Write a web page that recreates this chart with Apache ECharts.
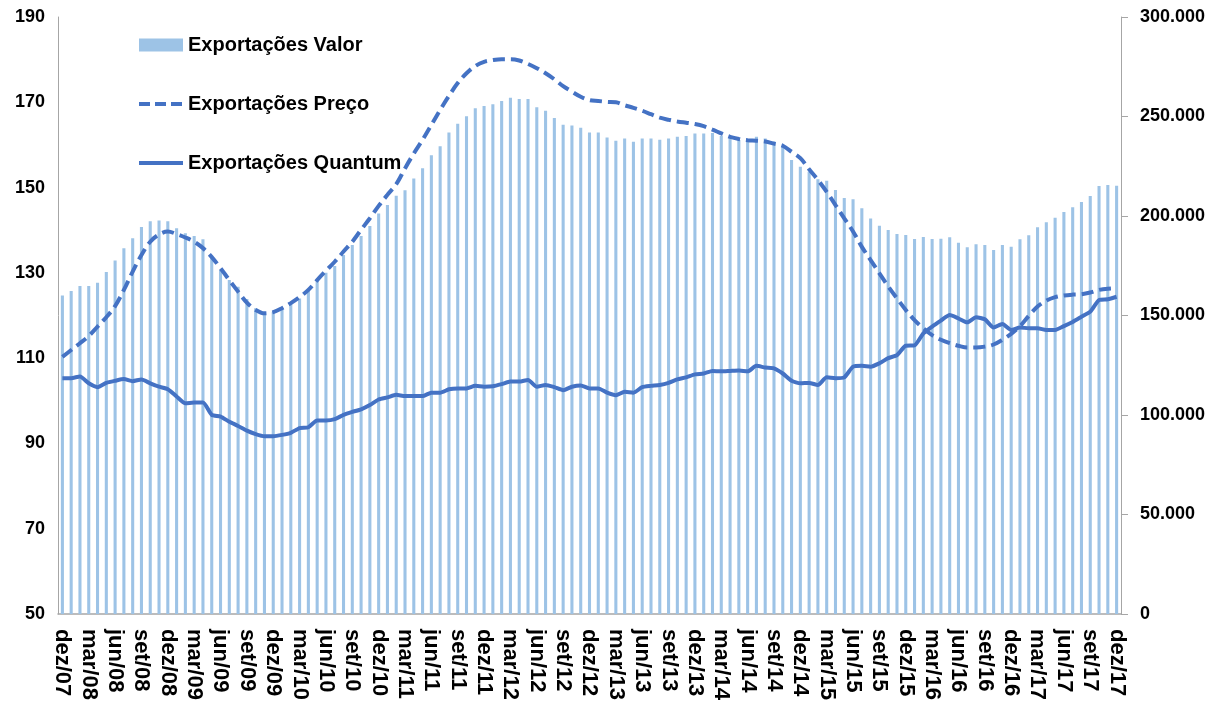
<!DOCTYPE html>
<html>
<head>
<meta charset="utf-8">
<script src="https://cdn.jsdelivr.net/npm/echarts@6/dist/echarts.min.js"></script>
<style>
  html, body { margin: 0; padding: 0; background: #ffffff; }
  #chart { width: 1210px; height: 704px; }
</style>
</head>
<body>
<div id="chart"></div>
<script>
// Monthly series, dez/07 .. dez/17
const monthNames = ['jan','fev','mar','abr','mai','jun','jul','ago','set','out','nov','dez'];
const startYear = 2007, startMonth = 11, nMonths = 121;

const categories = [];
for (let k = 0; k < nMonths; k++) {
  const m = (startMonth + k) % 12;
  const y = startYear + Math.floor((startMonth + k) / 12);
  categories.push(monthNames[m] + '/' + String(y % 100).padStart(2, '0'));
}

// Exportações Valor (US$ milhões, acumulado 12 meses) — right axis
const valor = [
  160000,162300,164800,164800,166500,171900,177700,183800,188800,194500,197300,197800,
  197300,193800,191300,190000,188300,180000,172900,167800,164500,158300,153600,151100,
  151900,153600,156100,158600,162800,167800,171500,174900,180400,185400,190000,195000,
  201300,205500,210200,213000,218900,224000,230500,235000,241900,246400,250100,254100,
  255300,256100,257800,259400,258800,258800,254600,252900,249200,245900,245500,244400,
  241900,241900,239500,237800,239000,237300,239000,239000,238300,239000,239800,240200,
  241400,241400,241700,240200,239200,238200,237700,239800,239000,237500,235000,228100,
  224800,222200,218500,217700,213100,209100,208400,203900,198800,195100,193000,191000,
  190500,188400,189400,188400,188600,189300,186600,184300,185800,185400,182900,185400,
  184600,188300,190300,194300,196800,199100,202000,204400,207000,210000,215100,215600,
  215200
];

// Exportações Preço (índice) — left axis
const preco = [
  110.3,111.9,113.5,115.2,117.4,119.6,122.2,126.0,130.3,134.2,137.3,139.0,
  139.7,139.1,138.3,137.3,135.8,133.7,131.1,128.3,125.6,123.0,121.3,120.5,
  120.8,121.7,122.9,124.3,126.0,128.3,130.5,132.6,135.0,137.3,140.1,142.8,
  145.7,148.3,150.8,154.5,158.0,161.2,164.7,168.2,171.5,174.5,176.8,178.5,
  179.5,179.9,180.1,180.1,179.8,179.0,178.0,176.8,175.4,173.8,172.5,171.3,
  170.5,170.3,170.1,170.0,169.3,168.7,168.0,167.2,166.4,165.9,165.5,165.2,
  164.9,164.4,163.6,162.7,161.9,161.4,161.1,161.0,160.8,160.3,159.8,158.4,
  156.9,154.3,151.8,149.0,145.9,142.8,139.7,136.1,133.0,129.9,126.8,124.0,
  121.3,118.9,117.0,115.4,114.3,113.5,112.9,112.5,112.5,112.7,113.2,114.3,
  115.7,117.5,119.9,122.1,123.5,124.3,124.7,124.9,125.0,125.4,126.0,126.3,
  126.4
];

// Exportações Quantum (índice) — left axis
const quantum = [
  105.3,105.3,105.7,104.1,103.2,104.2,104.7,105.1,104.6,105.0,104.1,103.3,
  102.7,101.0,99.4,99.6,99.6,96.7,96.3,95.1,94.1,93.0,92.2,91.7,
  91.7,92.0,92.5,93.6,93.8,95.4,95.4,95.7,96.7,97.4,98.0,99.0,
  100.3,100.8,101.4,101.1,101.1,101.1,101.9,101.9,102.7,102.9,102.9,103.5,
  103.3,103.4,103.9,104.5,104.5,104.9,103.3,103.7,103.2,102.5,103.3,103.6,
  102.9,102.9,101.9,101.3,102.1,101.9,103.2,103.5,103.7,104.2,105.0,105.5,
  106.2,106.4,107.0,106.9,107.0,107.1,106.9,108.2,107.8,107.6,106.4,104.7,
  104.1,104.2,103.7,105.5,105.3,105.5,108.0,108.2,108.0,108.8,110.0,110.7,
  112.9,113.0,115.8,117.4,118.8,120.1,119.3,118.4,119.6,119.1,117.2,118.0,
  116.6,117.2,117.0,117.0,116.6,116.6,117.5,118.5,119.7,120.9,123.6,123.8,
  124.4
];

const leftTicks = { min: 50, max: 190, interval: 20 };
const rightTicks = { min: 0, max: 300000, interval: 50000 };

const FONT = "'Liberation Sans', Arial, sans-serif";
const AXIS_GRAY = '#A6A6A6';
const BAR_BLUE = '#9DC3E6';
const LINE_BLUE = '#4472C4';

function thousands(v) {
  return String(Math.round(v)).replace(/\B(?=(\d{3})+(?!\d))/g, '.');
}

const chart = echarts.init(document.getElementById('chart'), null, { renderer: 'canvas' });

chart.setOption({
  backgroundColor: '#ffffff',
  animation: false,
  textStyle: { fontFamily: FONT },
  grid: { left: 58, right: 89, top: 17, bottom: 90, containLabel: false },
  legend: {
    orient: 'vertical',
    left: 137,
    top: 35,
    padding: 0,
    itemWidth: 44,
    itemHeight: 13,
    itemGap: 39,
    textStyle: { fontFamily: FONT, fontSize: 20, fontWeight: 'bold', color: '#000' },
    data: [
      { name: 'Exportações Valor', icon: 'rect' },
      // line entries: stroke only, no marker
      { name: 'Exportações Preço', itemStyle: { opacity: 0 }, lineStyle: { width: 4, type: [11, 5] } },
      { name: 'Exportações Quantum', itemStyle: { opacity: 0 }, lineStyle: { width: 4 } }
    ]
  },
  xAxis: {
    type: 'category',
    data: categories,
    boundaryGap: true,
    axisLine: { show: true, lineStyle: { color: AXIS_GRAY, width: 1.5 } },
    axisTick: { show: false },
    axisLabel: {
      interval: 2,
      rotate: -90,
      margin: 15,
      fontFamily: FONT,
      fontSize: 22,
      fontWeight: 'bold',
      color: '#000'
    },
    splitLine: { show: false }
  },
  yAxis: [
    {
      type: 'value',
      position: 'left',
      min: leftTicks.min,
      max: leftTicks.max,
      interval: leftTicks.interval,
      axisLine: { show: true, lineStyle: { color: AXIS_GRAY, width: 1 } },
      axisTick: { show: false },
      axisLabel: { margin: 13, fontFamily: FONT, fontSize: 18, fontWeight: 'bold', color: '#000' },
      splitLine: { show: false }
    },
    {
      type: 'value',
      position: 'right',
      min: rightTicks.min,
      max: rightTicks.max,
      interval: rightTicks.interval,
      axisLine: { show: true, lineStyle: { color: AXIS_GRAY, width: 1 } },
      axisTick: { show: true, inside: false, length: 7, lineStyle: { color: AXIS_GRAY } },
      axisLabel: {
        margin: 19,
        fontFamily: FONT,
        fontSize: 18,
        fontWeight: 'bold',
        color: '#000',
        formatter: thousands
      },
      splitLine: { show: false }
    }
  ],
  series: [
    {
      name: 'Exportações Valor',
      type: 'bar',
      yAxisIndex: 1,
      data: valor,
      barWidth: '35%',
      itemStyle: { color: BAR_BLUE },
      z: 1
    },
    {
      name: 'Exportações Preço',
      type: 'line',
      yAxisIndex: 0,
      data: preco,
      smooth: 0.35,
      symbol: 'none',
      itemStyle: { color: LINE_BLUE },
      lineStyle: { color: LINE_BLUE, width: 4, type: [12, 6] },
      z: 3
    },
    {
      name: 'Exportações Quantum',
      type: 'line',
      yAxisIndex: 0,
      data: quantum,
      smooth: 0.2,
      symbol: 'none',
      itemStyle: { color: LINE_BLUE },
      lineStyle: { color: LINE_BLUE, width: 4 },
      z: 4
    }
  ]
});
</script>
</body>
</html>
